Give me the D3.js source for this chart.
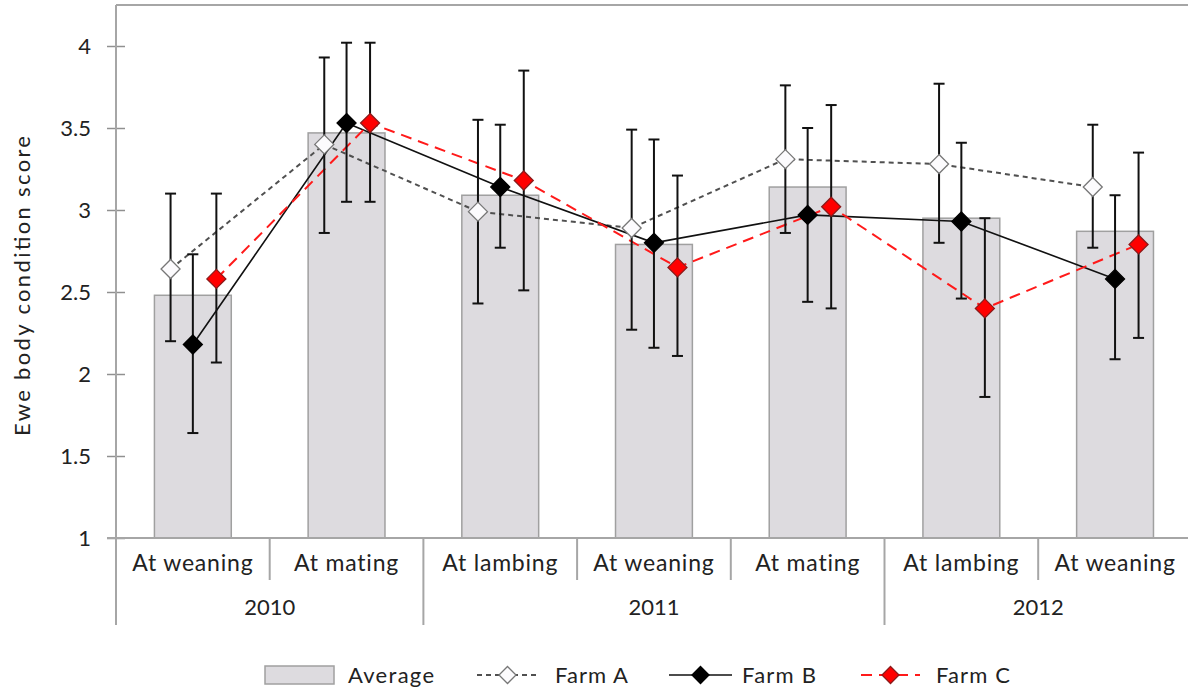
<!DOCTYPE html>
<html><head><meta charset="utf-8">
<script src="https://cdn.jsdelivr.net/npm/d3@7"></script>
<style>
html,body{margin:0;padding:0;background:#fff;}
svg{display:block;font-family:Lato, "Open Sans", sans-serif;}
</style></head>
<body>
<svg id="chart" width="1188" height="689"></svg>
<script>
const categories = ["At weaning","At mating","At lambing","At weaning","At mating","At lambing","At weaning"];
const years = ["2010","2011","2012"];
const yearSpans = [2,3,2];
const yTicks = [1,1.5,2,2.5,3,3.5,4];
const average = [2.48, 3.47, 3.09, 2.79, 3.14, 2.95, 2.87];
const farmA   = [2.64, 3.40, 2.99, 2.89, 3.31, 3.28, 3.14];
const farmAHi = [3.10, 3.93, 3.55, 3.49, 3.76, 3.77, 3.52];
const farmALo = [2.20, 2.86, 2.43, 2.27, 2.86, 2.80, 2.77];
const farmB   = [2.18, 3.53, 3.14, 2.80, 2.97, 2.93, 2.58];
const farmBHi = [2.73, 4.02, 3.52, 3.43, 3.50, 3.41, 3.09];
const farmBLo = [1.64, 3.05, 2.77, 2.16, 2.44, 2.46, 2.09];
const farmC   = [2.58, 3.53, 3.18, 2.65, 3.02, 2.40, 2.79];
const farmCHi = [3.10, 4.02, 3.85, 3.21, 3.64, 2.95, 3.35];
const farmCLo = [2.07, 3.05, 2.51, 2.11, 2.40, 1.86, 2.22];
const seriesNames = ["Farm A","Farm B","Farm C"];

const svg = d3.select("#chart");
const L = 116, T = 5, R = 116 + 153.7*7, B = 538;
const x = d3.scaleBand().domain(d3.range(categories.length)).range([L, R]).padding(0);
const y = d3.scaleLinear().domain([1, 1 + (B - T)/164]).range([B, T]);
const bw = x.bandwidth();

const styles = [
  {values: farmA, hi: farmAHi, lo: farmALo, off: -0.145, stroke: "#505050", dash: "5,4", width: 2, fill: "#fcfbfd", mstroke: "#777"},
  {values: farmB, hi: farmBHi, lo: farmBLo, off: 0.0,  stroke: "#111", dash: null, width: 1.6, fill: "#000", mstroke: "#000"},
  {values: farmC, hi: farmCHi, lo: farmCLo, off: 0.153, stroke: "#ff1a1a", dash: "11,7", width: 2, fill: "#f00", mstroke: "#8b1a1a"}
];

// plot border (top)
svg.append("line").attr("x1", L).attr("x2", R).attr("y1", T).attr("y2", T).attr("stroke", "#a6a6a6").attr("stroke-width", 2);

// bars
svg.append("g").selectAll("rect").data(average).join("rect")
  .attr("x", (d,i) => x(i) + bw*0.25)
  .attr("width", bw*0.5)
  .attr("y", d => y(d))
  .attr("height", d => y(1) - y(d))
  .attr("fill", "#dddbdf")
  .attr("stroke", "#a0a0a0")
  .attr("stroke-width", 1.5);

// y axis
const yAxis = d3.axisLeft(y).tickValues(yTicks).tickSize(0).tickPadding(0).tickFormat(d3.format("~g"));
const yg = svg.append("g").attr("transform", `translate(${L},0)`).call(yAxis);
yg.select(".domain").remove();
yg.selectAll(".tick text").attr("x", -25).attr("dy", "0.35em").attr("font-size", 22).attr("fill", "#222").attr("font-family", "Lato, sans-serif");
yg.selectAll(".tick").append("line").attr("x1", -9).attr("x2", 9).attr("stroke", "#909090").attr("stroke-width", 1.5);
svg.append("line").attr("x1", L).attr("x2", L).attr("y1", T).attr("y2", 625).attr("stroke", "#a6a6a6").attr("stroke-width", 2);

// x axis line
svg.append("line").attr("x1", 107).attr("x2", R).attr("y1", B).attr("y2", B).attr("stroke", "#a6a6a6").attr("stroke-width", 2);

// category labels
const xAxis = d3.axisBottom(x).tickSize(0).tickPadding(0).tickFormat(i => categories[i]);
const xg = svg.append("g").attr("transform", `translate(0,${B})`).call(xAxis);
xg.select(".domain").remove();
xg.selectAll(".tick text").attr("y", 25).attr("dy", "0.35em").attr("font-size", 23).attr("letter-spacing", "0.8px")
  .attr("fill", "#222").attr("font-family", "Lato, sans-serif");

// separators
let cum = 0;
const yearStarts = yearSpans.map(s => { const st = cum; cum += s; return st; });
const yearBoundaries = new Set(yearStarts.concat([categories.length]));
for (let i = 1; i < categories.length; i++) {
  const bx = x(i);
  svg.append("line").attr("x1", bx).attr("x2", bx).attr("y1", B).attr("y2", yearBoundaries.has(i) ? 625 : 580)
    .attr("stroke", "#a6a6a6").attr("stroke-width", 2);
}
// year labels
years.forEach((yr, k) => {
  const st = yearStarts[k], en = st + yearSpans[k];
  const cx = (x(st) + x(en - 1) + bw) / 2;
  svg.append("text").attr("x", cx).attr("y", 607).attr("dy", "0.35em").attr("text-anchor", "middle")
    .attr("font-size", 22).attr("fill", "#222").text(yr);
});

// y title
svg.append("text").attr("transform", `translate(22,286) rotate(-90)`).attr("text-anchor", "middle")
  .attr("dy", "0.35em").attr("font-size", 22).attr("fill", "#222")
  .attr("textLength", 300).attr("lengthAdjust", "spacing").text("Ewe body condition score");

// lines
const diamond = s => `M0,${-s}L${s},0L0,${s}L${-s},0Z`;
styles.forEach(st => {
  const line = d3.line().x((d,i) => x(i) + bw/2 + st.off*bw).y(d => y(d));
  svg.append("path").datum(st.values).attr("d", line).attr("fill", "none")
    .attr("stroke", st.stroke).attr("stroke-width", st.width).attr("stroke-dasharray", st.dash);
});
// error bars
styles.forEach(st => {
  const g = svg.append("g").attr("stroke", "#111").attr("stroke-width", 2);
  st.values.forEach((v,i) => {
    const cx = x(i) + bw/2 + st.off*bw;
    g.append("line").attr("x1", cx).attr("x2", cx).attr("y1", y(st.hi[i])).attr("y2", y(st.lo[i]));
    g.append("line").attr("x1", cx-5.5).attr("x2", cx+5.5).attr("y1", y(st.hi[i])).attr("y2", y(st.hi[i]));
    g.append("line").attr("x1", cx-5.5).attr("x2", cx+5.5).attr("y1", y(st.lo[i])).attr("y2", y(st.lo[i]));
  });
});
// markers
styles.forEach(st => {
  svg.append("g").selectAll("path").data(st.values).join("path")
    .attr("transform", (d,i) => `translate(${x(i) + bw/2 + st.off*bw},${y(d)})`)
    .attr("d", diamond(9.5)).attr("fill", st.fill).attr("stroke", st.mstroke).attr("stroke-width", 1.3);
});

// legend
const ly = 675;
const lg = svg.append("g").attr("font-size", 22).attr("fill", "#222");
lg.append("rect").attr("x", 265).attr("y", ly-9).attr("width", 69).attr("height", 18).attr("fill", "#dddbdf").attr("stroke", "#a0a0a0").attr("stroke-width", 1.5);
lg.append("text").attr("x", 348).attr("y", ly).attr("dy", "0.35em").attr("textLength", 86).attr("lengthAdjust", "spacing").text("Average");
const legPos = [{x1: 477, x2: 538, tx: 555, tw: 73}, {x1: 669, x2: 732, tx: 742, tw: 74}, {x1: 861, x2: 920, tx: 936, tw: 74}];
styles.forEach((st, k) => {
  const p = legPos[k];
  lg.append("line").attr("x1", p.x1).attr("x2", p.x2).attr("y1", ly).attr("y2", ly)
    .attr("stroke", st.stroke).attr("stroke-width", st.width).attr("stroke-dasharray", st.dash);
  lg.append("path").attr("transform", `translate(${(p.x1+p.x2)/2},${ly})`).attr("d", diamond(8.5))
    .attr("fill", st.fill).attr("stroke", st.mstroke).attr("stroke-width", 1.3);
  lg.append("text").attr("x", p.tx).attr("y", ly).attr("dy", "0.35em").attr("textLength", p.tw).attr("lengthAdjust", "spacing").text(seriesNames[k]);
});
</script>
</body></html>
